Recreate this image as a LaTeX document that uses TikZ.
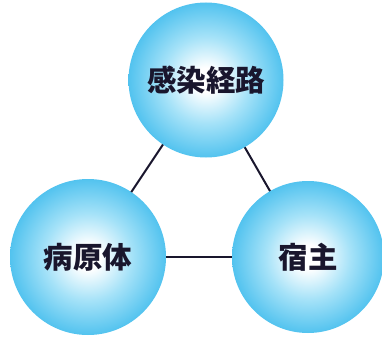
\documentclass[tikz,border=0pt]{standalone}
\usepackage{fontspec}
\newfontfamily\cjk{Noto Sans CJK JP}
\definecolor{txt}{RGB}{25,22,45}
\definecolor{blA}{RGB}{165,226,248}
\definecolor{blB}{RGB}{75,192,238}
\definecolor{blC}{RGB}{38,176,230}
\definecolor{blD}{RGB}{18,162,222}
\pgfdeclareradialshading{sphereshade}{\pgfpoint{0bp}{0bp}}{color(0bp)=(white); color(4bp)=(white); color(14bp)=(blA); color(26bp)=(blB); color(40bp)=(blC); color(50bp)=(blD)}
\tikzset{
  sphere/.style={circle, minimum size=#1, inner sep=0pt, shading=sphereshade, text=txt, font=\cjk\bfseries\fontsize{29.5}{31}\selectfont},
  link/.style={draw=txt, line width=2pt}
}
\begin{document}
\begin{tikzpicture}[x=1pt,y=-1pt]
\useasboundingbox (0,0) rectangle (382,337);
\coordinate (ct) at (206,80);
\coordinate (cl) at (88,257);
\coordinate (cr) at (308,257);
\draw[link] (ct) -- (cl);
\draw[link] (ct) -- (cr);
\draw[link] (cl) -- (cr);
\node[sphere=155pt] (top) at (ct) {感染経路};
\node[sphere=156pt] (left) at (cl) {病原体};
\node[sphere=152pt] (right) at (cr) {宿主};
\end{tikzpicture}
\end{document}
